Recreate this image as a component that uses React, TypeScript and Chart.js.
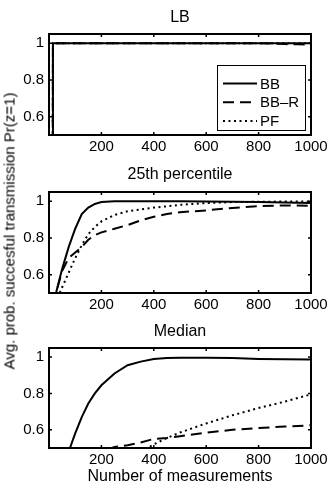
import React, { useEffect, useRef } from 'react';
import { Chart, registerables } from 'chart.js';
Chart.register(...registerables);

// ---------- data ----------
const seriesNames = ['BB', 'BB\u2013R', 'PF'];
const plotTitles = ['LB', '25th percentile', 'Median'];
const xTicks = [200, 400, 600, 800, 1000];
const yTicks = [0.6, 0.8, 1];
const yLabel = 'Avg. prob. succesful transmission Pr(z=1)';
const xLabel = 'Number of measurements';

// LB
const lbX = [1, 14, 15, 200, 400, 600, 800, 850, 900, 950, 1000];
const lbBB = [0.2, 0.2, 1, 1, 1, 1, 1, 1, 1, 1, 1];
const lbBBR = [0.2, 0.2, 1, 1, 1, 1, 1, 0.998, 0.995, 0.994, 0.993];
const lbPF = [0.2, 0.2, 1, 1, 1, 1, 1, 1, 0.999, 1, 1];

// 25th percentile
const p25X = [1, 25, 50, 75, 100, 125, 150, 175, 200, 250, 300, 350, 400, 450, 500, 600, 700, 800, 900, 1000];
const p25BB = [0.35, 0.49, 0.63, 0.75, 0.85, 0.93, 0.965, 0.985, 0.995, 1.0, 1.0, 1.0, 1.0, 1.0, 0.999, 0.998, 0.997, 0.995, 0.993, 0.99];
const p25BBR = [0.35, 0.49, 0.62, 0.69, 0.72, 0.75, 0.79, 0.815, 0.83, 0.85, 0.87, 0.895, 0.915, 0.93, 0.94, 0.95, 0.963, 0.973, 0.977, 0.975];
const p25PF = [0.3, 0.45, 0.53, 0.61, 0.69, 0.76, 0.82, 0.86, 0.89, 0.925, 0.945, 0.955, 0.965, 0.972, 0.98, 0.99, 0.995, 0.997, 0.998, 0.999];

// Median
const medX = [1, 50, 80, 100, 125, 150, 175, 200, 250, 300, 350, 400, 450, 500, 600, 700, 800, 900, 1000];
const medBB = [0.2, 0.38, 0.5, 0.58, 0.67, 0.745, 0.8, 0.845, 0.91, 0.955, 0.975, 0.99, 0.995, 0.997, 0.997, 0.995, 0.99, 0.988, 0.987];
const medBBR = [0.3, 0.35, 0.38, 0.4, 0.42, 0.44, 0.46, 0.48, 0.505, 0.515, 0.53, 0.55, 0.555, 0.565, 0.585, 0.6, 0.61, 0.618, 0.625];
const medPF = [0.2, 0.25, 0.28, 0.3, 0.32, 0.34, 0.36, 0.38, 0.42, 0.45, 0.48, 0.52, 0.555, 0.585, 0.635, 0.68, 0.72, 0.755, 0.795];

// ---------- styles ----------
const FONT = '"Liberation Sans", Arial, sans-serif';
const dashes: number[][] = [[], [11, 6], [2, 3.5]];

const boxPlugin = {
  id: 'matlabBox',
  afterDatasetsDraw(chart: any) {
    const { ctx, chartArea: a, scales } = chart;
    ctx.save();
    ctx.strokeStyle = '#000';
    ctx.lineWidth = 1.5;
    const tl = 3;
    ctx.beginPath();
    for (const v of xTicks) {
      const px = scales.x.getPixelForValue(v);
      ctx.moveTo(px, a.top); ctx.lineTo(px, a.top + tl);
      ctx.moveTo(px, a.bottom); ctx.lineTo(px, a.bottom - tl);
    }
    for (const v of yTicks) {
      const py = scales.y.getPixelForValue(v);
      ctx.moveTo(a.left, py); ctx.lineTo(a.left + tl, py);
      ctx.moveTo(a.right, py); ctx.lineTo(a.right - tl, py);
    }
    ctx.stroke();
    ctx.lineWidth = 2;
    ctx.strokeRect(a.left, a.top, a.right - a.left, a.bottom - a.top);

    const opts = chart.options.plugins.matlabBox;
    if (opts && opts.legend) {
      const w = 88, h = 65;
      const lx = Math.round(a.right - 6 - w), ly = Math.round(a.bottom - 5 - h);
      ctx.fillStyle = '#fff';
      ctx.fillRect(lx, ly, w, h);
      ctx.lineWidth = 1;
      ctx.strokeRect(lx + 0.5, ly + 0.5, w, h);
      ctx.font = '15px ' + FONT;
      ctx.textBaseline = 'middle';
      ctx.textAlign = 'left';
      seriesNames.forEach((name, i) => {
        const y = ly + 18.5 + i * 18.8;
        ctx.beginPath();
        ctx.lineWidth = 2;
        ctx.setLineDash(dashes[i]);
        ctx.moveTo(lx + 6, y);
        ctx.lineTo(lx + 40, y);
        ctx.stroke();
        ctx.setLineDash([]);
        ctx.fillStyle = '#000';
        ctx.fillText(name, lx + 43, y + 1);
      });
    }
    ctx.restore();
  },
};

type Cfg = {
  title: string;
  xs: number[];
  ys: number[][];
  top: number;
  height: number;
  tPadTop: number;
  tPadBottom: number;
  axisHeight: number;
  legend?: boolean;
  xTitle?: string;
};

function SubPlot({ cfg }: { cfg: Cfg }) {
  const ref = useRef<HTMLCanvasElement>(null);
  useEffect(() => {
    const datasets = cfg.ys.map((ys, i) => ({
      label: seriesNames[i],
      data: cfg.xs.map((x, j) => ({ x, y: ys[j] })),
      borderColor: '#000',
      borderWidth: 2,
      borderDash: dashes[i],
      pointRadius: 0,
      tension: 0,
      fill: false,
    }));
    const chart = new Chart(ref.current as HTMLCanvasElement, {
      type: 'line',
      data: { datasets },
      options: {
        animation: false,
        responsive: false,
        devicePixelRatio: 1,
        layout: { padding: { left: 0, right: 21, top: 0, bottom: 0 } },
        plugins: {
          legend: { display: false },
          tooltip: { enabled: false },
          title: {
            display: true,
            text: cfg.title,
            fullSize: false,
            color: '#000',
            font: { family: FONT, size: 16, weight: 'normal', lineHeight: 1.125 },
            padding: { top: cfg.tPadTop, bottom: cfg.tPadBottom },
          },
          matlabBox: { legend: !!cfg.legend },
        } as any,
        scales: {
          x: {
            type: 'linear',
            min: 0,
            max: 1000,
            grid: { display: false, drawTicks: false },
            border: { display: false },
            afterBuildTicks: (s: any) => { s.ticks = xTicks.map((v) => ({ value: v })); },
            afterFit: (s: any) => { s.height = cfg.axisHeight; s.paddingLeft = 0; s.paddingRight = 0; },
            ticks: {
              color: '#000',
              font: { family: FONT, size: 15 },
              padding: 3,
              maxRotation: 0,
              autoSkip: false,
              callback: (v: any) => String(v),
            },
            title: {
              display: !!cfg.xTitle,
              text: cfg.xTitle || '',
              color: '#000',
              font: { family: FONT, size: 16 },
              padding: { top: 0, bottom: 4 },
            },
          },
          y: {
            type: 'linear',
            min: 0.5,
            max: 1.05,
            grid: { display: false, drawTicks: false },
            border: { display: false },
            afterBuildTicks: (s: any) => { s.ticks = yTicks.map((v) => ({ value: v })); },
            afterFit: (s: any) => { s.width = 49; s.paddingTop = 0; s.paddingBottom = 0; },
            ticks: {
              color: '#000',
              font: { family: FONT, size: 15 },
              padding: 5,
              callback: (v: any) => String(Math.round(v * 10) / 10),
            },
          },
        },
      } as any,
      plugins: [boxPlugin],
    });
    return () => chart.destroy();
  }, []);
  return (
    <canvas
      ref={ref}
      width={332}
      height={cfg.height}
      style={{ position: 'absolute', left: 0, top: cfg.top, width: 332, height: cfg.height }}
    />
  );
}

export default function App() {
  const cfgs: Cfg[] = [
    { title: plotTitles[0], xs: lbX, ys: [lbBB, lbBBR, lbPF], top: 0, height: 165, tPadTop: 9, tPadBottom: 7, axisHeight: 30, legend: true },
    { title: plotTitles[1], xs: p25X, ys: [p25BB, p25BBR, p25PF], top: 160, height: 160, tPadTop: 6, tPadBottom: 8, axisHeight: 27 },
    { title: plotTitles[2], xs: medX, ys: [medBB, medBBR, medPF], top: 320, height: 170, tPadTop: 3, tPadBottom: 7, axisHeight: 42, xTitle: xLabel },
  ];
  return (
    <div style={{ position: 'fixed', left: 0, top: 0, width: 332, height: 490, background: '#fff', overflow: 'hidden' }}>
      {cfgs.map((c, i) => <SubPlot key={i} cfg={c} />)}
      <div
        style={{
          position: 'absolute',
          left: 9,
          top: 231,
          transform: 'translate(-50%, -50%) rotate(-90deg)',
          whiteSpace: 'nowrap',
          fontFamily: FONT,
          fontSize: 15,
          fontWeight: 400,
          lineHeight: '1',
          color: '#000',
        }}
      >
        {yLabel}
      </div>
    </div>
  );
}
